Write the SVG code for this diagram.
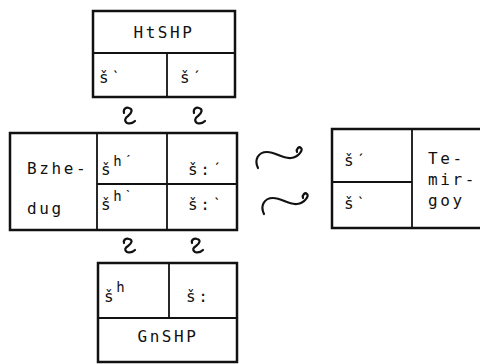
<svg xmlns="http://www.w3.org/2000/svg" width="480" height="364" viewBox="0 0 480 364">
<style>
.box{fill:#fff;stroke:#111;stroke-width:2.5}
.div{stroke:#111;stroke-width:1.8;fill:none}
.t{font-family:"DejaVu Sans Mono","Liberation Mono",monospace;font-size:16px;fill:#111;letter-spacing:2.6px}
.sup{font-size:14px;fill:#111}
.sq{fill:none;stroke:#111;stroke-width:2.2;stroke-linecap:round}
</style>
<rect width="480" height="364" fill="#fff"/>
<g id="HtSHP">
<rect class="box" x="93" y="11" width="142" height="86"/>
<line class="div" x1="93" y1="53" x2="235" y2="53"/>
<line class="div" x1="167" y1="53" x2="167" y2="97"/>
<text class="t" x="164" y="38" text-anchor="middle">HtSHP</text>
<text class="t" x="99" y="83">šˋ</text>
<text class="t" x="180" y="83">šˊ</text>
</g>
<g id="Bzhedug">
<rect class="box" x="10" y="133" width="227" height="97"/>
<line class="div" x1="97" y1="133" x2="97" y2="230"/>
<line class="div" x1="167" y1="133" x2="167" y2="230"/>
<line class="div" x1="97" y1="184" x2="237" y2="184"/>
<text class="t" x="27" y="174">Bzhe-</text>
<text class="t" x="27" y="214">dug</text>
<text class="t" x="101" y="175">š<tspan class="sup" dy="-9">hˊ</tspan></text>
<text class="t" x="188" y="175">š:ˊ</text>
<text class="t" x="101" y="210">š<tspan class="sup" dy="-9">hˋ</tspan></text>
<text class="t" x="188" y="210">š:ˋ</text>
</g>
<g id="Temirgoy">
<rect class="box" x="332" y="129" width="160" height="99"/>
<line class="div" x1="412" y1="129" x2="412" y2="228"/>
<line class="div" x1="332" y1="182" x2="412" y2="182"/>
<text class="t" x="344" y="166">šˊ</text>
<text class="t" x="344" y="209">šˋ</text>
<text class="t" x="428" y="164">Te-</text>
<text class="t" x="428" y="185">mir-</text>
<text class="t" x="428" y="206">goy</text>
</g>
<g id="GnSHP">
<rect class="box" x="98" y="263" width="139" height="99"/>
<line class="div" x1="98" y1="318" x2="237" y2="318"/>
<line class="div" x1="169" y1="263" x2="169" y2="318"/>
<text class="t" x="104" y="302">š<tspan class="sup" dy="-10">h</tspan></text>
<text class="t" x="186" y="302">š:</text>
<text class="t" x="168" y="342" text-anchor="middle">GnSHP</text>
</g>
<g id="connectors">
<path class="sq" d="M124 113 C123 109,126 107,129 108 C133 109,132 113,128 116 C125 118,124 121,127 123 C130 124,133 123,135 121"/>
<path class="sq" d="M194 113 C193 109,196 107,199 108 C203 109,202 113,198 116 C195 118,194 121,197 123 C200 124,203 123,205 121"/>
<path class="sq" d="M124 243 C123 240,126 238,129 239 C133 240,132 243,128 246 C125 248,124 250,127 252 C130 253,133 252,135 250"/>
<path class="sq" d="M192 243 C191 240,194 238,197 239 C201 240,200 243,196 246 C193 248,192 250,195 252 C198 253,201 252,203 250"/>
<path class="sq" d="M258 168 C254 160,258 152,267 152 C276 152,282 159,291 158 C299 157,303 150,301 148 C299 146,296 149,297 152"/>
<path class="sq" d="M264 214 C260 206,264 198,273 198 C282 198,288 205,297 204 C305 203,309 196,307 194 C305 192,302 195,303 198"/>
</g>
</svg>
